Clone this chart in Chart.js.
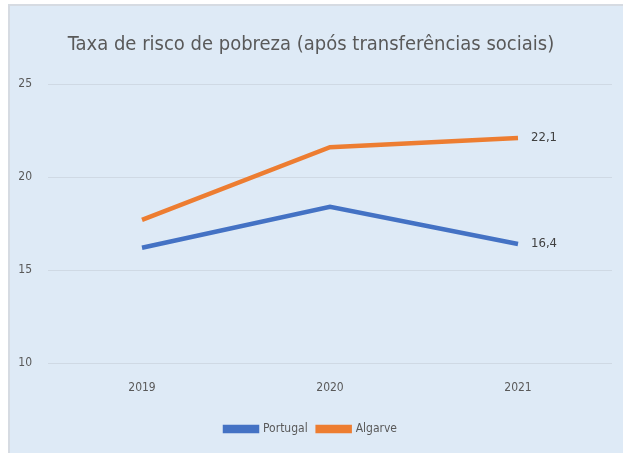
<!DOCTYPE html>
<html>
<head>
<meta charset="utf-8">
<script src="https://cdn.jsdelivr.net/npm/chart.js@4/dist/chart.umd.min.js"></script>
<style>
  html, body { margin: 0; padding: 0; background: #fff; }
  #wrap {
    position: absolute; left: 8px; top: 4px; width: 615px; height: 449px;
    border-left: 2px solid #d6dbe2; border-top: 2px solid #d6dbe2;
    background: #deeaf6;
  }
</style>
</head>
<body>
<div id="wrap"><canvas id="chart" width="613" height="447"></canvas></div>
<script>
// Poverty risk rate after social transfers
const years = ['2019', '2020', '2021'];
const portugal = [16.2, 18.4, 16.4];
const algarve = [17.7, 21.6, 22.1];
const yTicks = [10, 15, 20, 25];

const FONT = "'Liberation Sans Narrow', 'DejaVu Sans Condensed', sans-serif";

// draw value label next to the last point of each line
const lastLabel = {
    id: 'lastLabel',
    afterDatasetsDraw(chart) {
        const ctx = chart.ctx;
        ctx.save();
        ctx.font = '13px ' + FONT;
        ctx.fillStyle = '#404040';
        ctx.textBaseline = 'middle';
        chart.data.datasets.forEach((ds, i) => {
            const pts = chart.getDatasetMeta(i).data;
            const p = pts[pts.length - 1];
            const v = ds.data[ds.data.length - 1];
            ctx.fillText(v.toFixed(1).replace('.', ','), p.x + 13, p.y + 0);
        });
        ctx.restore();
    }
};

new Chart(document.getElementById('chart'), {
    type: 'line',
    data: {
        labels: years,
        datasets: [
            { label: 'Portugal', data: portugal, borderColor: '#4472c4', backgroundColor: '#4472c4', borderWidth: 4.5, pointRadius: 0, tension: 0 },
            { label: 'Algarve', data: algarve, borderColor: '#ed7d31', backgroundColor: '#ed7d31', borderWidth: 4.5, pointRadius: 0, tension: 0 }
        ]
    },
    options: {
        responsive: false,
        animation: false,
        layout: { padding: { left: 0, right: 11, top: 0, bottom: 8 } },
        plugins: {
            title: {
                display: true,
                text: 'Taxa de risco de pobreza (após transferências sociais)',
                color: '#595959',
                font: { family: FONT, size: 20, weight: 'normal' },
                padding: { top: 27, bottom: 27 }
            },
            legend: {
                position: 'bottom',
                labels: {
                    color: '#595959',
                    font: { family: FONT, size: 12 },
                    boxWidth: 32,
                    boxHeight: 4,
                    padding: 10
                }
            },
            tooltip: { enabled: false }
        },
        scales: {
            x: {
                offset: true,
                grid: { display: false },
                border: { display: false },
                afterFit(axis) { axis.height = 50; },
                ticks: { color: '#595959', font: { family: FONT, size: 12 }, padding: 10 }
            },
            y: {
                min: 10,
                max: 25,
                afterBuildTicks(axis) { axis.ticks = yTicks.map(v => ({ value: v })); },
                afterFit(axis) { axis.width = 38; },
                grid: { color: '#cfd9e4', drawTicks: false },
                border: { display: false },
                ticks: { color: '#595959', font: { family: FONT, size: 12 }, padding: 16 }
            }
        }
    },
    plugins: [lastLabel]
});
</script>
</body>
</html>
